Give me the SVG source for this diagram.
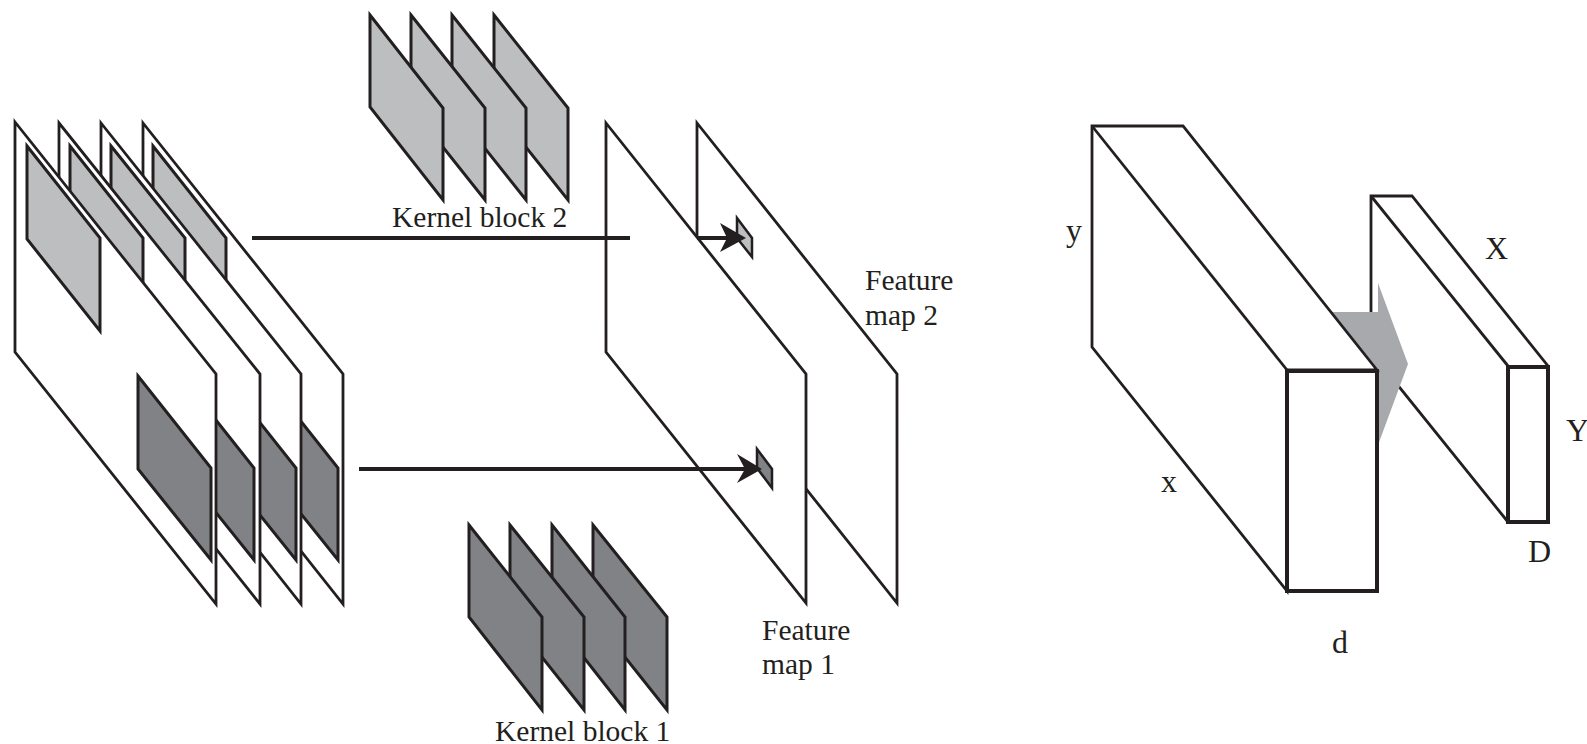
<svg xmlns="http://www.w3.org/2000/svg" width="1587" height="744" viewBox="0 0 1587 744">
<style>
.p{fill:#fff;stroke:#231f20;stroke-width:2.8;stroke-linejoin:miter}
.l{fill:#bcbec0;stroke:#231f20;stroke-width:3}
.d{fill:#808285;stroke:#231f20;stroke-width:3}
.f{fill:#fff;stroke:#231f20;stroke-width:4}
.c{fill:none;stroke:#231f20;stroke-width:3.8}
.h{fill:#231f20}
text{font-family:"Liberation Serif",serif;font-size:29.5px;fill:#231f20}
.t{font-size:32px}
</style>
<rect width="1587" height="744" fill="#fff"/>
<g id="input-stack">
<g id="layer-4"><polygon class="p" points="143,123 343,374 343,604 143,352"/><polygon class="l" points="153,146 226,238 226,331 153,239"/><polygon class="d" points="265,376 338,468 338,560 265,469"/></g>
<g id="layer-3"><polygon class="p" points="101,123 301,374 301,604 101,352"/><polygon class="l" points="111,146 185,238 185,331 111,239"/><polygon class="d" points="223,376 296,468 296,560 223,469"/></g>
<g id="layer-2"><polygon class="p" points="59,123 260,374 260,604 59,352"/><polygon class="l" points="70,146 143,238 143,331 70,239"/><polygon class="d" points="181,376 254,468 254,560 181,469"/></g>
<g id="layer-1"><polygon class="p" points="15,122 216,374 216,604 15,352"/><polygon class="l" points="27,146 100,238 100,331 27,239"/><polygon class="d" points="138,376 211,468 211,560 138,469"/></g>
</g>
<g id="kernel-block-2">
<polygon class="l" points="494,15 568,108 568,200 494,107"/>
<polygon class="l" points="452,15 526,108 526,200 452,107"/>
<polygon class="l" points="411,15 485,108 485,200 411,107"/>
<polygon class="l" points="370,15 443,108 443,200 370,107"/>
<text x="392" y="227">Kernel block 2</text>
</g>
<g id="kernel-block-1">
<polygon class="d" points="593,525 667,617 667,710 593,617"/>
<polygon class="d" points="552,525 625,617 625,710 552,617"/>
<polygon class="d" points="510,525 584,617 584,710 510,617"/>
<polygon class="d" points="469,525 542,617 542,710 469,617"/>
<text x="495" y="741">Kernel block 1</text>
</g>
<g id="feature-map-2">
<polygon class="p" points="697,123 897,374 897,603 697,352"/>
<polygon class="l" style="stroke-width:2.5" points="737,218 752,238 752,257 737,238"/>
<text x="865" y="290">Feature</text><text x="865" y="325">map 2</text>
</g>
<g id="feature-map-1">
<polygon class="p" points="606,123 806,374 806,603 606,352"/>
<polygon class="d" style="stroke-width:2.5" points="757,449 772,469 772,488 757,468"/>
<text x="762" y="640">Feature</text><text x="762" y="674">map 1</text>
</g>
<g id="connectors">
<path class="c" d="M252 238H630"/>
<path class="c" d="M697 238H730"/>
<polygon class="h" points="720,223 746,238 720,252 727,238"/>
<path class="c" d="M359 469H745"/>
<polygon class="h" points="737,454 762,469 737,483 745,469"/>
</g>
<g id="output-block">
<polygon class="p" points="1371,196 1412,196 1548,366 1548,522 1508,522 1371,352"/>
<path class="p" d="M1371 196L1508 366"/>
<rect class="f" x="1508" y="367" width="40" height="155"/>
<text class="t" x="1485" y="259">X</text><text class="t" x="1566" y="441">Y</text><text class="t" x="1528" y="562">D</text>
</g>
<g id="transform-arrow">
<polygon fill="#a7a9ac" points="1332,312 1378,312 1378,283 1408,364 1378,445 1378,372"/>
</g>
<g id="input-block">
<polygon class="p" points="1092,126 1183,126 1377,370 1287,370 1287,591 1092,347"/>
<path class="p" d="M1092 126L1287 370"/>
<rect class="f" x="1287" y="371" width="90" height="220"/>
<text class="t" x="1066" y="241">y</text><text class="t" x="1161" y="492">x</text><text class="t" x="1332" y="653">d</text>
</g>
</svg>
